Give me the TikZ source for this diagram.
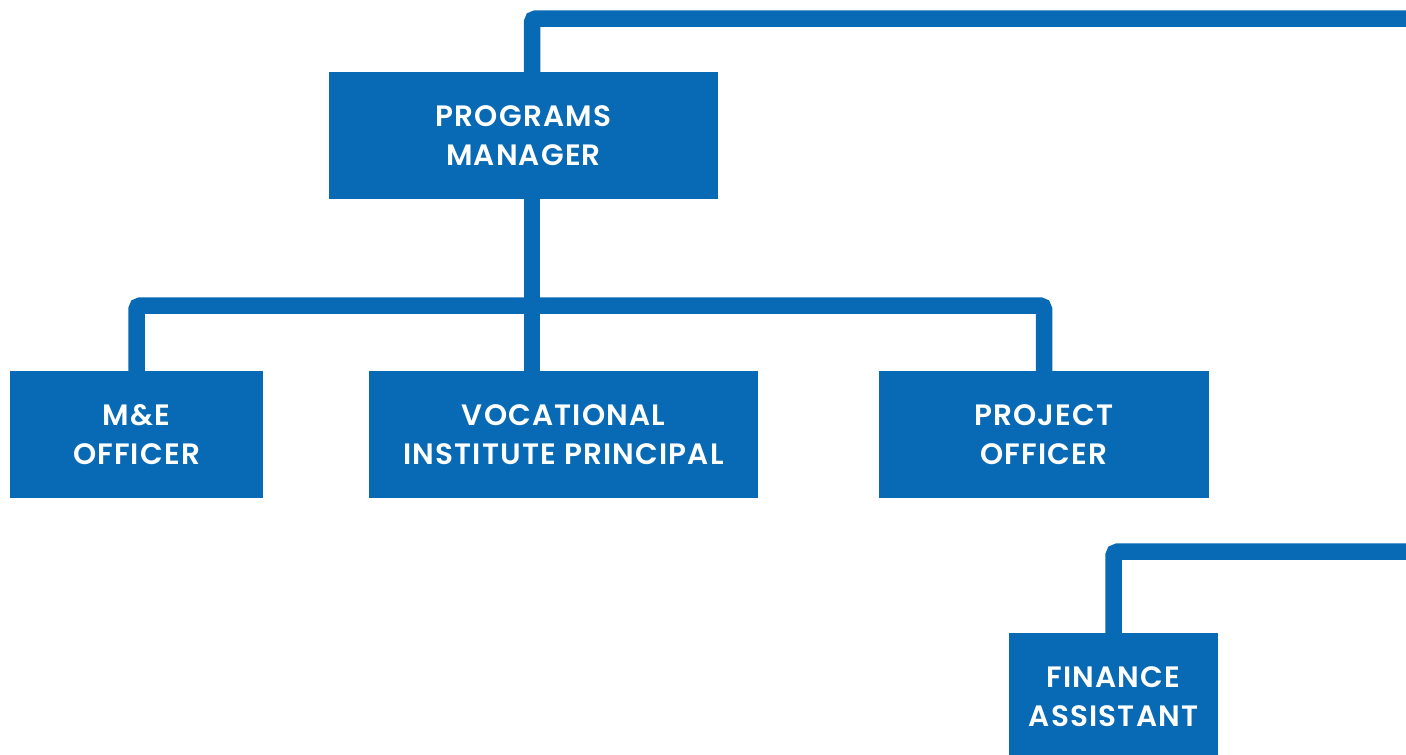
\documentclass[tikz,border=0pt]{standalone}
\usepackage{fontspec}
\setmainfont{Poppins}[BoldFont={Poppins SemiBold}]
\usetikzlibrary{positioning}

\definecolor{orgblue}{RGB}{8,106,180}

\begin{document}
\begin{tikzpicture}[x=1pt,y=-1pt,
    box/.style={fill=orgblue,text=white,inner sep=0pt,outer sep=0pt,
      minimum height=127pt,align=center,
      font=\fontsize{29.5}{39.5}\selectfont\bfseries\addfontfeatures{LetterSpace=4}},
    link/.style={draw=orgblue,line width=16.5pt,rounded corners=4pt}]
      \useasboundingbox (0,0) rectangle (1406,755);

      % Boxes
      \node[box,minimum width=389pt] (pm) at (523.5,135.5) {PROGRAMS\\MANAGER};
      \node[box,minimum width=253pt] (me) at (136.5,434.5) {M\&E\\OFFICER};
      \node[box,minimum width=389pt] (vip) at (563.5,434.5) {VOCATIONAL\\INSTITUTE PRINCIPAL};
      \node[box,minimum width=330pt] (po) at (1044,434.5) {PROJECT\\OFFICER};
      \node[box,minimum width=209pt] (fa) at (1113.5,696.5) {FINANCE\\ASSISTANT};

      % Free ends and bar
      \coordinate (bar) at (532,305.5);
      \coordinate (topend) at (1406,18.5);
      \coordinate (finend) at (1406,551.7);

      % Links
      \draw[link] (pm.north -| bar) |- (topend);
      \draw[link] (pm.south -| bar) -- (vip.north -| bar);
      \draw[link] (me.north) |- (bar) -| (po.north);
      \draw[link] (fa.north) |- (finend);
\end{tikzpicture}
\end{document}
